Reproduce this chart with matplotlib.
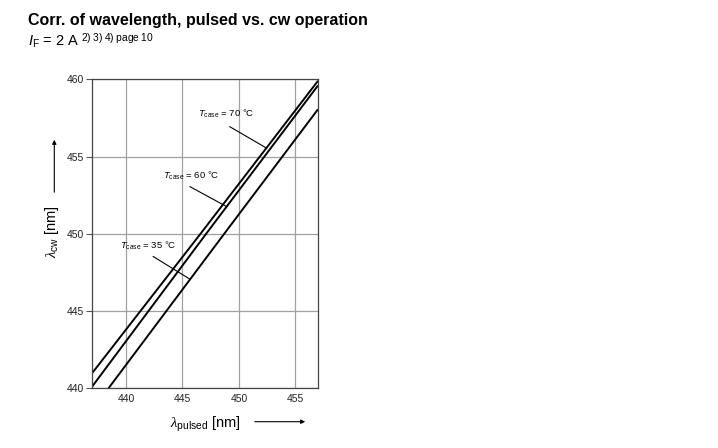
import matplotlib
matplotlib.use("Agg")
import matplotlib.pyplot as plt

plt.rcParams['font.family'] = ['Liberation Sans', 'DejaVu Sans']
plt.rcParams['mathtext.fontset'] = 'custom'
plt.rcParams['mathtext.rm'] = 'Liberation Sans'
plt.rcParams['mathtext.it'] = 'Liberation Serif:italic'
plt.rcParams['mathtext.sf'] = 'Liberation Sans:italic'

# Data (pulsed wavelength -> cw wavelength, nm)
x_70 = [437.0, 446.6, 457.0]
y_70 = [440.97, 450.0, 459.9]
x_60 = [437.0, 447.1, 457.0]
y_60 = [440.1, 450.0, 459.6]
x_35 = [438.46, 448.7, 457.0]
y_35 = [440.0, 450.0, 458.06]

labels = ['70', '60', '35']
xticks = [440, 445, 450, 455]
yticks = [440, 445, 450, 455, 460]

fig = plt.figure(figsize=(7.18, 4.48), dpi=100)
ax = fig.add_axes([92/718, 1-388.3/448, 226/718, (388.3-79.3)/448])

for xs, ys in [(x_70, y_70), (x_60, y_60), (x_35, y_35)]:
    ax.plot(xs, ys, color='black', lw=1.4, solid_capstyle='butt')

ax.set_xlim(437, 457)
ax.set_ylim(440, 460)
ax.set_xticks(xticks)
ax.set_yticks(yticks)
ax.tick_params(axis='both', labelsize=7.5, colors='#222222')
ax.tick_params(axis='x', length=0, pad=4)
ax.tick_params(axis='y', length=4, width=0.8, color='#555555', pad=2)
ax.grid(True, color='#a0a0a0', lw=0.9)
ax.set_axisbelow(True)
for s in ax.spines.values():
    s.set_color('#444444')
    s.set_linewidth(0.9)

# curve labels with leader lines
ann = [
    ('70', (446.38, 457.74), (449.2, 456.93), (452.46, 455.54)),
    ('60', (443.28, 453.75), (445.67, 453.05), (448.92, 451.76)),
    ('35', (439.48, 449.22), (442.42, 448.53), (445.67, 447.06)),
]
for lab, tpos, p0, p1 in ann:
    ax.text(tpos[0], tpos[1], r'$\mathsf{T}_{\mathrm{case}}$' + ' = %s °C' % lab,
            fontsize=6.8, ha='left', va='center')
    ax.plot([p0[0], p1[0]], [p0[1], p1[1]], color='black', lw=0.8)

# axis labels with arrows
fig.text(205/718, 1-424/448, r'$\lambda_{\mathrm{pulsed}}$ [nm]', fontsize=10.5,
         ha='center', va='center')
fig.add_artist(matplotlib.patches.FancyArrowPatch(
    (252/718, 1-421.7/448), (308/718, 1-421.7/448), transform=fig.transFigure,
    arrowstyle='-|>', mutation_scale=6, color='black', lw=0.8))
fig.text(52/718, 1-232/448, r'$\lambda_{\mathrm{cw}}$ [nm]', fontsize=10.5,
         ha='center', va='center', rotation=90)
fig.add_artist(matplotlib.patches.FancyArrowPatch(
    (54.3/718, 1-195/448), (54.3/718, 1-137/448), transform=fig.transFigure,
    arrowstyle='-|>', mutation_scale=6, color='black', lw=0.8))

# titles
fig.text(28/718, 1-20/448, 'Corr. of wavelength, pulsed vs. cw operation',
         fontsize=11.5, fontweight='bold', ha='left', va='center')
fig.text(28/718, 1-41/448,
         r'$\mathsf{I}_{\mathrm{F}}$ = 2 A$\ ^{\mathrm{2)\ 3)\ 4)\ page\ 10}}$',
         fontsize=10.5, ha='left', va='center')

fig.savefig('out.png', dpi=100)
